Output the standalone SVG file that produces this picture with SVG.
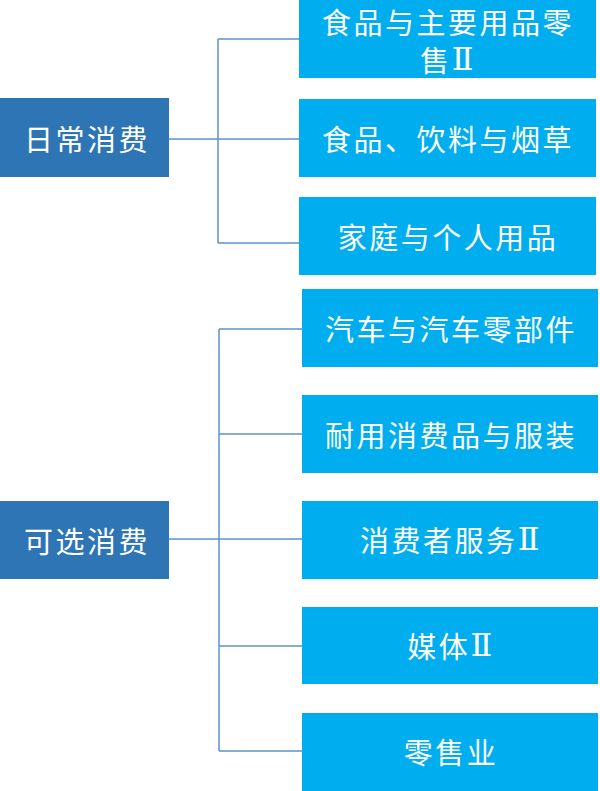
<svg xmlns="http://www.w3.org/2000/svg" width="600" height="791" viewBox="0 0 600 791">
<style>
.l{fill:#2E75B6}
.r{fill:#00AEEF}
text{font-family:"Noto Sans CJK SC","Noto Sans",sans-serif;font-size:29px;fill:#fff;text-anchor:middle;dominant-baseline:central;letter-spacing:2.5px}
.rn{font-family:"DejaVu Serif","Liberation Serif","Noto Sans CJK SC",serif;font-size:32px}
.c{stroke:#5F93C6;stroke-width:1.5;fill:none}
</style>
<rect width="600" height="791" fill="#fff"/>
<g id="connectors">
<path class="c" d="M169 139H218M218 39V243M218 39H299M218 139H299M218 243H299"/>
<path class="c" d="M169 539H219M219 329V751M219 329H302M219 434H302M219 539H302M219 646H302M219 751H302"/>
</g>
<g id="n-daily"><rect class="l" x="0" y="98" width="169" height="79"/><text x="87" y="138">日常消费</text></g>
<g id="n-d1"><rect class="r" x="299" y="0" width="297" height="78"/><text x="448" y="21">食品与主要用品零</text><text x="448" y="59">售<tspan class="rn">Ⅱ</tspan></text></g>
<g id="n-d2"><rect class="r" x="299" y="99" width="297" height="78"/><text x="448" y="138">食品、饮料与烟草</text></g>
<g id="n-d3"><rect class="r" x="299" y="197" width="297" height="78"/><text x="448" y="236">家庭与个人用品</text></g>
<g id="n-opt"><rect class="l" x="0" y="501" width="169" height="78"/><text x="87" y="540">可选消费</text></g>
<g id="n-o1"><rect class="r" x="302" y="289" width="296" height="78"/><text x="451" y="328">汽车与汽车零部件</text></g>
<g id="n-o2"><rect class="r" x="302" y="395" width="296" height="78"/><text x="451" y="434">耐用消费品与服装</text></g>
<g id="n-o3"><rect class="r" x="302" y="501" width="296" height="78"/><text x="451" y="539">消费者服务<tspan class="rn">Ⅱ</tspan></text></g>
<g id="n-o4"><rect class="r" x="302" y="607" width="296" height="77"/><text x="451" y="645">媒体<tspan class="rn">Ⅱ</tspan></text></g>
<g id="n-o5"><rect class="r" x="302" y="713" width="296" height="78"/><text x="451" y="751">零售业</text></g>
</svg>
